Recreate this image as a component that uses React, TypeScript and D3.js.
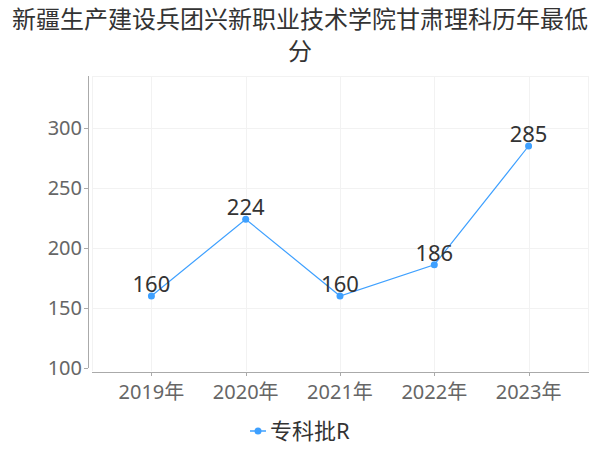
import { useEffect, useRef } from 'react';
import * as d3 from 'd3';

const years = ['2019年', '2020年', '2021年', '2022年', '2023年'];
const scores = [160, 224, 160, 186, 285];
const yTicks = [100, 150, 200, 250, 300];
const seriesName = '专科批R';
const titleLines = ['新疆生产建设兵团兴新职业技术学院甘肃理科历年最低', '分'];

const W = 600;
const H = 450;
const FONT = '"Noto Sans", "Noto Sans CJK SC", sans-serif';
const LINE_COLOR = '#3ea0ff';

export default function App() {
  const svgRef = useRef<SVGSVGElement>(null);

  useEffect(() => {
    if (!svgRef.current) return;
    const svg = d3.select(svgRef.current);
    svg.selectAll('*').remove();

    const left = 92;
    const right = 588;
    const top = 76;
    const bottom = 368;

    const x = d3.scalePoint<string>().domain(years).range([left, right]).padding(0.63);
    // 100 -> 368, 300 -> 128
    const y = d3.scaleLinear().domain([100, 300]).range([bottom, 128]);

    // title
    svg
      .append('g')
      .selectAll('text')
      .data(titleLines)
      .join('text')
      .attr('x', W / 2)
      .attr('y', (_, i) => 28 + i * 32)
      .attr('text-anchor', 'middle')
      .attr('font-size', 24)
      .attr('fill', '#333')
      .text((d) => d);

    // grid
    const grid = svg.append('g').attr('stroke', '#f2f2f2').attr('stroke-width', 1);
    grid
      .selectAll('line.h')
      .data([...yTicks.slice(1), y.invert(top)])
      .join('line')
      .attr('x1', left)
      .attr('x2', right)
      .attr('y1', (d) => Math.round(y(d)) + 0.5)
      .attr('y2', (d) => Math.round(y(d)) + 0.5);
    grid
      .selectAll('line.v')
      .data(years)
      .join('line')
      .attr('x1', (d) => Math.round(x(d)!) + 0.5)
      .attr('x2', (d) => Math.round(x(d)!) + 0.5)
      .attr('y1', top)
      .attr('y2', bottom + 3);
    grid
      .append('line')
      .attr('x1', left + 0.5)
      .attr('x2', left + 0.5)
      .attr('y1', top)
      .attr('y2', bottom + 3);
    grid
      .append('line')
      .attr('x1', right + 0.5)
      .attr('x2', right + 0.5)
      .attr('y1', top)
      .attr('y2', bottom + 3);

    // y axis
    const yAxis = svg.append('g');
    yAxis
      .append('line')
      .attr('x1', 88.5)
      .attr('x2', 88.5)
      .attr('y1', top)
      .attr('y2', bottom)
      .attr('stroke', '#aaa');
    yAxis
      .selectAll('line.t')
      .data(yTicks)
      .join('line')
      .attr('x1', 84)
      .attr('x2', 88)
      .attr('y1', (d) => Math.round(y(d)) + 0.5)
      .attr('y2', (d) => Math.round(y(d)) + 0.5)
      .attr('stroke', '#aaa');
    yAxis
      .selectAll('text')
      .data(yTicks)
      .join('text')
      .attr('x', 82)
      .attr('y', (d) => y(d) + 7)
      .attr('text-anchor', 'end')
      .attr('font-size', 20)
      .attr('fill', '#666')
      .text((d) => d);

    // x axis
    const xAxis = svg.append('g');
    xAxis
      .append('line')
      .attr('x1', left)
      .attr('x2', right + 1)
      .attr('y1', 372.5)
      .attr('y2', 372.5)
      .attr('stroke', '#aaa');
    xAxis
      .selectAll('line.t')
      .data(years)
      .join('line')
      .attr('x1', (d) => Math.round(x(d)!) + 0.5)
      .attr('x2', (d) => Math.round(x(d)!) + 0.5)
      .attr('y1', 372)
      .attr('y2', 376)
      .attr('stroke', '#aaa');
    xAxis
      .selectAll('text')
      .data(years)
      .join('text')
      .attr('x', (d) => x(d)!)
      .attr('y', 399)
      .attr('text-anchor', 'middle')
      .attr('font-size', 20)
      .attr('fill', '#666')
      .text((d) => d);

    // line + points
    const pts = years.map((yr, i) => ({ yr, v: scores[i] }));
    const line = d3
      .line<{ yr: string; v: number }>()
      .x((d) => x(d.yr)!)
      .y((d) => y(d.v));
    svg
      .append('path')
      .datum(pts)
      .attr('d', line)
      .attr('fill', 'none')
      .attr('stroke', LINE_COLOR)
      .attr('stroke-width', 1.2);
    svg
      .append('g')
      .selectAll('circle')
      .data(pts)
      .join('circle')
      .attr('cx', (d) => x(d.yr)!)
      .attr('cy', (d) => y(d.v))
      .attr('r', 3.5)
      .attr('fill', LINE_COLOR);
    svg
      .append('g')
      .selectAll('text')
      .data(pts)
      .join('text')
      .attr('x', (d) => x(d.yr)!)
      .attr('y', (d) => y(d.v) - 4)
      .attr('text-anchor', 'middle')
      .attr('font-size', 22)
      .attr('fill', '#333')
      .text((d) => d.v);

    // legend
    const lg = svg.append('g').attr('transform', 'translate(250,431)');
    lg.append('line').attr('x1', 0).attr('x2', 16).attr('y1', 0).attr('y2', 0).attr('stroke', LINE_COLOR).attr('stroke-width', 1.5);
    lg.append('circle').attr('cx', 8).attr('cy', 0).attr('r', 3.5).attr('fill', LINE_COLOR);
    lg.append('text')
      .attr('x', 20)
      .attr('y', 8)
      .attr('font-size', 22)
      .attr('fill', '#333')
      .text(seriesName);
  }, []);

  return (
    <svg
      ref={svgRef}
      width={W}
      height={H}
      style={{ position: 'absolute', left: 0, top: 0, fontFamily: FONT, background: '#fff' }}
    />
  );
}
